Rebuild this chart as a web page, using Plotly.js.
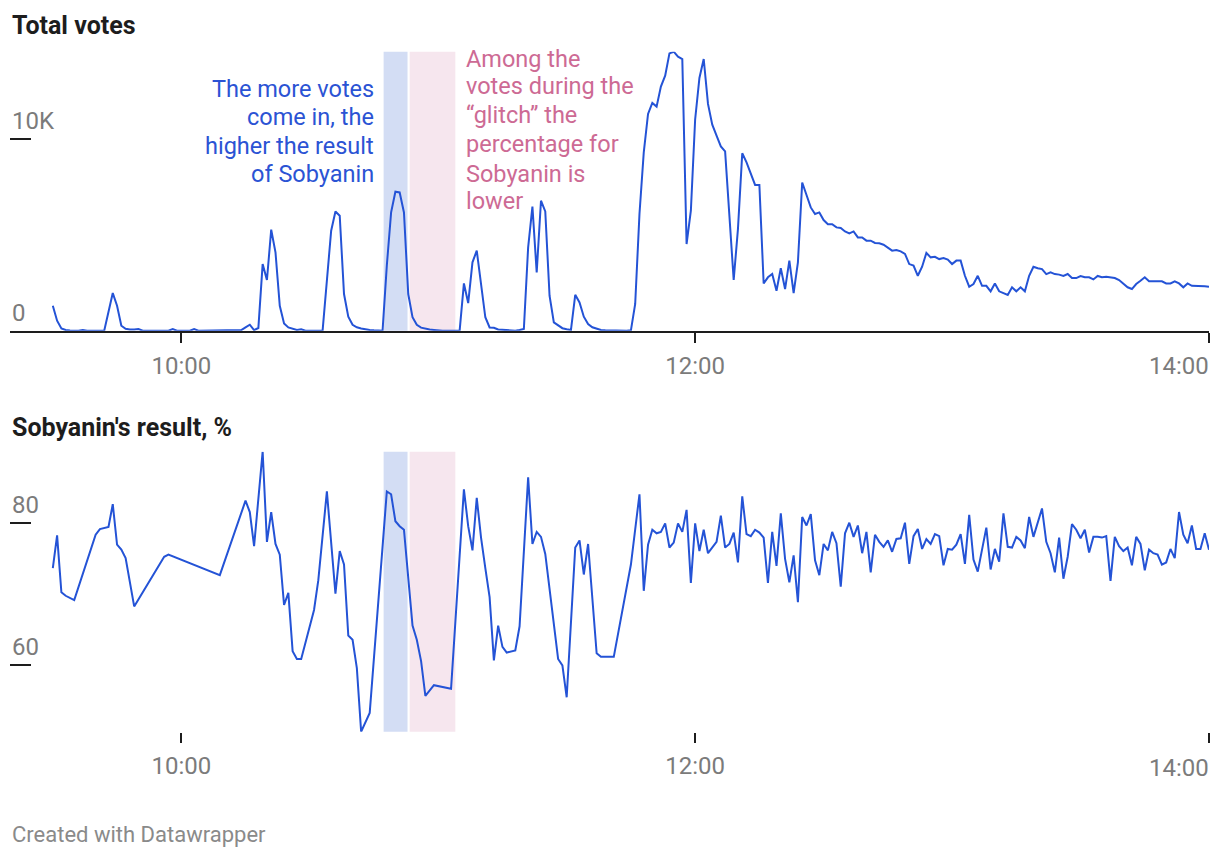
<!DOCTYPE html>
<html>
<head>
<meta charset="utf-8">
<script src="https://cdn.plot.ly/plotly-3.0.1.min.js"></script>
<style>
  html, body { margin: 0; padding: 0; background: #fff; }
  #chart { width: 1220px; height: 858px; }
</style>
</head>
<body>
<div id="chart"></div>
<script>
// ---------- DATA ----------
const DAY = "2019-09-08 ";

const voteTimes = [
"09:30","09:31","09:32","09:33","09:34","09:35","09:36","09:37","09:38","09:42",
"09:44","09:45","09:46","09:47","09:48","09:49","09:50","09:51","09:57","09:58",
"09:59","10:02","10:03","10:04","10:13","10:14","10:15","10:16","10:17","10:18",
"10:19","10:20","10:21","10:22","10:23","10:24","10:25","10:26","10:27","10:28",
"10:29","10:33","10:34","10:35","10:36","10:37","10:38","10:39","10:40","10:41",
"10:42","10:43","10:44","10:45","10:46","10:47","10:48","10:49","10:50","10:51",
"10:52","10:53","10:54","10:55","10:56","10:57","10:58","10:59","11:00","11:01",
"11:05","11:06","11:07","11:08","11:09","11:10","11:11","11:12","11:13","11:14",
"11:15","11:16","11:17","11:18","11:19","11:20","11:21","11:22","11:23","11:24",
"11:25","11:26","11:27","11:28","11:29","11:30","11:31","11:32","11:33","11:34",
"11:35","11:36","11:37","11:38","11:39","11:40","11:41","11:44","11:45","11:46",
"11:47","11:48","11:49","11:50","11:51","11:52","11:53","11:54","11:55","11:56",
"11:57","11:58","11:59","12:00","12:01","12:02","12:03","12:04","12:05","12:06",
"12:07","12:08","12:09","12:10","12:11","12:12","12:13","12:14","12:15","12:16",
"12:17","12:18","12:19","12:20","12:21","12:22","12:23","12:24","12:25","12:26",
"12:27","12:28","12:29","12:30","12:31","12:32","12:33","12:34","12:35","12:36",
"12:37","12:38","12:39","12:40","12:41","12:42","12:43","12:44","12:45","12:46",
"12:47","12:48","12:49","12:50","12:51","12:52","12:53","12:54","12:55","12:56",
"12:57","12:58","12:59","13:00","13:01","13:02","13:03","13:04","13:05","13:06",
"13:07","13:08","13:09","13:10","13:11","13:12","13:13","13:14","13:15","13:16",
"13:17","13:18","13:19","13:20","13:21","13:22","13:23","13:24","13:25","13:26",
"13:27","13:28","13:29","13:30","13:31","13:32","13:33","13:34","13:35","13:36",
"13:37","13:38","13:39","13:40","13:41","13:42","13:43","13:44","13:45","13:46",
"13:47","13:48","13:49","13:50","13:51","13:52","13:53","13:54","13:55","13:56",
"13:57","13:58","13:59","14:00"
];
const voteValues = [
1300,520,120,40,10,0,0,40,0,0,
1960,1300,260,100,60,60,90,0,0,80,
0,0,80,0,0,30,170,310,30,140,
3470,2640,5260,4080,1300,380,170,90,40,70,
0,0,2600,5210,6210,5990,1910,730,310,180,
120,60,40,20,10,0,3400,6160,7240,7200,
6160,1910,700,310,160,90,60,40,20,0,
0,2460,1440,3560,4170,2430,700,170,150,60,
40,40,20,0,40,90,4340,6460,3040,6770,
6210,1820,430,260,130,80,40,1870,1470,730,
350,180,100,40,20,10,0,0,20,1390,
6080,9290,11290,11860,11670,12710,13280,14440,14530,14270,
14150,4510,6250,11000,13160,14150,11810,10730,10160,9600,
9340,6080,2640,5300,9240,8770,8120,7590,7590,2460,
2780,2950,2080,3250,2170,3650,1960,3560,7720,7120,
6420,6080,6160,5760,5550,5550,5380,5350,5170,5070,
5170,4860,4860,4690,4690,4570,4550,4480,4340,4170,
4200,4130,4000,3470,3390,2860,3330,4050,3820,3850,
3730,3780,3700,3470,3650,3650,2860,2290,2430,2860,
2340,2340,2050,2460,2050,1960,1860,2260,2050,2260,
2050,2860,3330,3250,3210,2950,3040,2950,2920,2850,
2950,2740,2740,2850,2780,2780,2670,2850,2780,2810,
2760,2740,2640,2430,2260,2170,2430,2600,2780,2570,
2570,2570,2570,2460,2460,2570,2460,2260,2460,2340,
2340,2340,2320,2290
];

const resultTimes = [
"09:30","09:31","09:32","09:33","09:35","09:40","09:41","09:43","09:44","09:45",
"09:46","09:47","09:49","09:56","09:57","10:09","10:15","10:16","10:17","10:19",
"10:20","10:21","10:22","10:23","10:24","10:25","10:26","10:27","10:28","10:31",
"10:32","10:34","10:36","10:37","10:38","10:39","10:40","10:41","10:42","10:44",
"10:48","10:49","10:50","10:51","10:52","10:54","10:55","10:56","10:57","10:58",
"10:59","11:03","11:06","11:07","11:08","11:09","11:10","11:11","11:12","11:13",
"11:14","11:15","11:16","11:18","11:19","11:21","11:22","11:23","11:24","11:25",
"11:26","11:27","11:28","11:29","11:30","11:32","11:33","11:34","11:35","11:37",
"11:38","11:41","11:45","11:47","11:48","11:49","11:50","11:51","11:52","11:53",
"11:54","11:55","11:56","11:57","11:58","11:59","12:00","12:01","12:02","12:03",
"12:04","12:05","12:06","12:07","12:08","12:09","12:10","12:11","12:12","12:13",
"12:14","12:15","12:16","12:17","12:18","12:19","12:20","12:21","12:22","12:23",
"12:24","12:25","12:26","12:27","12:28","12:29","12:30","12:31","12:32","12:33",
"12:34","12:35","12:36","12:37","12:38","12:39","12:40","12:41","12:42","12:43",
"12:44","12:45","12:46","12:47","12:48","12:49","12:50","12:51","12:52","12:53",
"12:54","12:55","12:56","12:57","12:58","12:59","13:00","13:01","13:02","13:03",
"13:04","13:05","13:06","13:07","13:08","13:09","13:10","13:11","13:12","13:13",
"13:14","13:15","13:16","13:17","13:18","13:19","13:20","13:21","13:22","13:23",
"13:24","13:25","13:26","13:27","13:28","13:29","13:30","13:31","13:32","13:33",
"13:34","13:35","13:36","13:37","13:38","13:39","13:40","13:41","13:42","13:43",
"13:44","13:45","13:46","13:47","13:48","13:49","13:50","13:51","13:52","13:53",
"13:54","13:55","13:56","13:57","13:58","13:59","14:00"
];
const resultValues = [
73.6,78.2,70.2,69.7,69.1,78.3,79.1,79.4,82.6,76.9,
76.2,75.0,68.2,75.2,75.5,72.6,83.1,81.5,76.7,90.0,
77.3,81.5,77.0,75.5,68.4,70.1,61.9,60.8,60.8,67.7,
71.9,84.4,70.0,76.0,74.1,64.1,63.5,59.5,50.55,53.2,
84.4,84.0,80.2,79.5,79.0,65.5,63.5,60.5,55.6,56.4,
57.1,56.6,84.7,79.5,76.1,83.5,77.9,73.6,69.5,60.6,
65.5,62.5,61.7,62.0,65.4,86.4,77.0,78.7,78.0,75.6,
70.5,65.2,60.8,59.9,55.4,76.5,77.5,72.7,77.0,61.6,
61.1,61.1,74.1,84.0,70.4,76.9,79.0,78.5,78.7,79.9,
76.5,77.2,79.9,78.7,81.8,71.5,79.9,76.0,79.0,75.7,
76.5,77.3,81.0,76.5,77.0,78.6,74.4,83.7,78.4,78.1,
79.0,78.6,77.9,71.5,78.7,73.9,81.3,74.9,71.6,75.4,
68.8,80.8,79.6,81.2,74.7,72.6,77.0,76.1,78.7,77.1,
71.0,78.5,80.0,78.0,79.6,75.7,78.7,73.0,78.3,77.3,
76.6,77.5,75.9,77.7,77.8,80.0,74.2,78.1,79.1,76.3,
77.7,77.0,78.4,78.1,74.0,76.3,76.2,76.9,78.4,74.2,
81.1,74.8,73.1,76.3,79.3,73.4,76.3,74.5,81.3,76.6,
76.5,78.0,77.5,76.4,80.8,78.0,80.1,82.0,77.3,75.7,
73.0,77.9,72.1,75.2,79.8,79.0,77.8,79.0,75.8,78.0,
78.0,77.9,78.1,71.8,78.0,76.7,76.0,76.5,74.0,78.0,
77.0,73.3,76.2,75.7,75.5,74.1,74.4,76.3,75.0,81.5,
78.3,77.1,79.6,76.3,76.3,78.5,76.2
];

const xTickTimes = ["10:00", "12:00", "14:00"];
const xTickLabels = ["10:00", "12:00", "14:00"];
const xRange = ["09:20", "14:00"];

const votesTicks = [0, 10000];
const votesTickLabels = ["0", "10K"];
const resultTicks = [60, 80];
const resultTickLabels = ["60", "80"];

const bandRising = ["10:47:15", "10:52:50"];
const bandGlitch = ["10:53:20", "11:04:00"];

const titleVotes = "Total votes";
const titleResult = "Sobyanin's result, %";
const noteBlue = ["The more votes", "come in, the", "higher the result", "of Sobyanin"];
const notePink = ["Among the", "votes during the", "\u201Cglitch\u201D the", "percentage for", "Sobyanin is", "lower"];
const footer = "Created with Datawrapper";

// ---------- LAYOUT HELPERS ----------
const W = 1220, H = 858, ML = 10, MR = 11;
const px = x => (x - ML) / (W - ML - MR);
const py = y => 1 - y / H;
const d = t => DAY + t;

const LINE = "#2453d6";
const BLUE_TXT = "#2b53d4";
const PINK_TXT = "#cd6a94";
const GREY = "#7b7b7b";
const DARK = "#1d1d1d";
const FONT = "Roboto, 'Open Sans', sans-serif";

const traces = [
  { x: voteTimes.map(d), y: voteValues, xaxis: "x", yaxis: "y", type: "scatter", mode: "lines",
    line: { color: LINE, width: 2 }, hoverinfo: "skip" },
  { x: resultTimes.map(d), y: resultValues, xaxis: "x2", yaxis: "y2", type: "scatter", mode: "lines",
    line: { color: LINE, width: 2 }, hoverinfo: "skip" }
];

// The last tick label sits right-aligned to the plot edge, drawn separately.
const lastIdx = xTickLabels.length - 1;
const shownTickText = xTickLabels.map((t, i) => (i === lastIdx ? "" : t));

const xBase = {
  type: "date",
  range: xRange.map(d),
  tickvals: xTickTimes.map(d),
  ticktext: shownTickText,
  showgrid: false, zeroline: false,
  ticks: "outside", ticklen: 10, tickwidth: 2, tickcolor: DARK,
  tickfont: { family: FONT, size: 24, color: GREY },
  ticklabelstandoff: 2,
  fixedrange: true
};
const yBase = {
  showgrid: false, zeroline: false, showline: false,
  ticks: "inside", ticklen: 21, tickwidth: 2, tickcolor: DARK,
  showticklabels: false, fixedrange: true
};

const annotations = [];
function addText(text, x, yCenter, anchor, color, size, weight) {
  annotations.push({ xref: "paper", yref: "paper", x: px(x), y: py(yCenter), text: text,
    xanchor: anchor, yanchor: "middle", showarrow: false,
    font: { family: FONT, size: size, color: color, weight: weight || 400 } });
}
addText(titleVotes, 10, 25.5, "left", DARK, 25, 700);
addText(titleResult, 10, 427.5, "left", DARK, 25, 700);
addText(footer, 10, 834, "left", "#8a8a8a", 22);

const blueCenters = [88.7, 117, 146, 173.7];
noteBlue.forEach((t, i) => addText(t, 375.5, blueCenters[i], "right", BLUE_TXT, 23.5));
const pinkCenters = [58.7, 86.3, 115.3, 144.3, 173.7, 201.3];
notePink.forEach((t, i) => addText(t, 463.7, pinkCenters[i], "left", PINK_TXT, 23.5));

// last x tick label, right-aligned to the axis end
annotations.push({ xref: "paper", yref: "paper", x: 1, y: py(366), xshift: 2, text: xTickLabels[lastIdx],
  xanchor: "right", yanchor: "middle", showarrow: false, font: { family: FONT, size: 24, color: GREY } });
annotations.push({ xref: "paper", yref: "paper", x: 1, y: py(768), xshift: 2, text: xTickLabels[lastIdx],
  xanchor: "right", yanchor: "middle", showarrow: false, font: { family: FONT, size: 24, color: GREY } });

// y tick labels (drawn above the tick dashes)
votesTicks.forEach((v, i) => annotations.push({ xref: "paper", yref: "y", x: px(10), y: v, yshift: 17.5,
  text: votesTickLabels[i], xanchor: "left", yanchor: "middle", showarrow: false,
  font: { family: FONT, size: 24, color: GREY } }));
resultTicks.forEach((v, i) => annotations.push({ xref: "paper", yref: "y2", x: px(10), y: v, yshift: 17.5,
  text: resultTickLabels[i], xanchor: "left", yanchor: "middle", showarrow: false,
  font: { family: FONT, size: 24, color: GREY } }));

const band = (range, xref, yref, color) => ({ type: "rect", layer: "below", xref: xref, yref: yref,
  x0: d(range[0]), x1: d(range[1]), y0: 0, y1: 1, fillcolor: color, line: { width: 0 } });

const layout = {
  width: W, height: H, autosize: false,
  margin: { l: ML, r: MR, t: 0, b: 0, pad: 0 },
  paper_bgcolor: "#ffffff", plot_bgcolor: "#ffffff",
  showlegend: false,
  font: { family: FONT },
  xaxis: Object.assign({}, xBase, { anchor: "y", showline: true, linecolor: DARK, linewidth: 2 }),
  yaxis: Object.assign({}, yBase, { domain: [py(330.7), py(51.7)], range: [0, 14530], tickvals: votesTicks, anchor: "x" }),
  xaxis2: Object.assign({}, xBase, { anchor: "y2", showline: false }),
  yaxis2: Object.assign({}, yBase, { domain: [py(731.7), py(451.7)], range: [50.55, 90], tickvals: resultTicks, anchor: "x2" }),
  shapes: [
    band(bandRising, "x", "y domain", "#d3ddf4"),
    band(bandGlitch, "x", "y domain", "#f6e6ee"),
    band(bandRising, "x2", "y2 domain", "#d3ddf4"),
    band(bandGlitch, "x2", "y2 domain", "#f6e6ee")
  ],
  annotations: annotations
};

Plotly.newPlot("chart", traces, layout, { displayModeBar: false, staticPlot: true });
</script>
</body>
</html>
